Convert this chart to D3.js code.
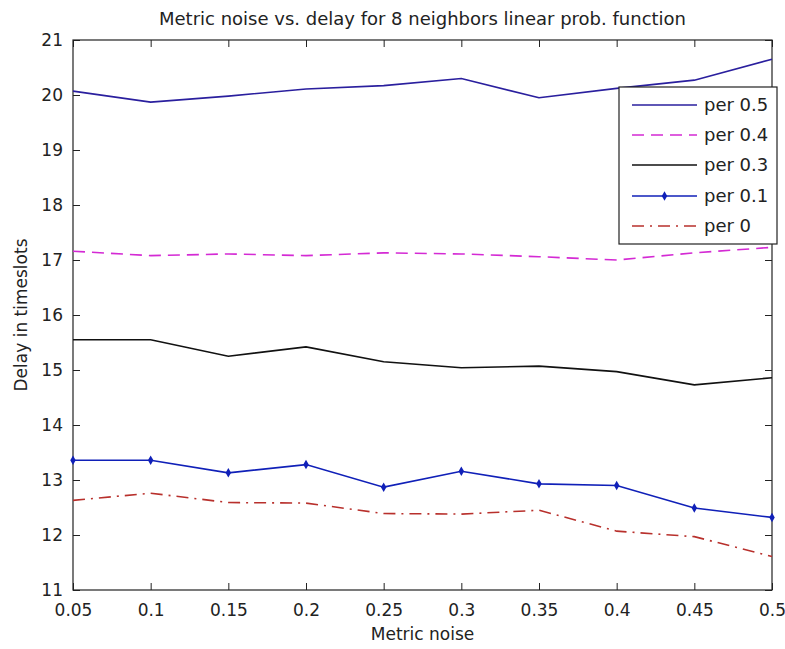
<!DOCTYPE html>
<html><head><meta charset="utf-8">
<script src="https://cdn.jsdelivr.net/npm/d3@7"></script>
<style>
body{margin:0;background:#fff;}
text{font-family:"DejaVu Sans",sans-serif;fill:#222;}
</style></head>
<body><svg id="c" width="785" height="649"></svg>
<script>
const noise = [0.05,0.1,0.15,0.2,0.25,0.3,0.35,0.4,0.45,0.5];
const per05 = [20.07,19.87,19.98,20.11,20.17,20.30,19.95,20.12,20.27,20.65];
const per04 = [17.16,17.08,17.11,17.08,17.13,17.11,17.06,17.00,17.13,17.23];
const per03 = [15.55,15.55,15.25,15.42,15.15,15.04,15.07,14.97,14.73,14.86];
const per01 = [13.36,13.36,13.13,13.28,12.87,13.16,12.93,12.90,12.49,12.32];
const per0  = [12.63,12.76,12.59,12.58,12.39,12.38,12.45,12.07,11.97,11.61];
const xTicks = [0.05,0.1,0.15,0.2,0.25,0.3,0.35,0.4,0.45,0.5];
const yTicks = [11,12,13,14,15,16,17,18,19,20,21];
const seriesNames = ["per 0.5","per 0.4","per 0.3","per 0.1","per 0"];

const series = [
  {name:seriesNames[0], v:per05, color:"#2a1f9e", dash:null, marker:false},
  {name:seriesNames[1], v:per04, color:"#d42ad4", dash:"12,7", marker:false},
  {name:seriesNames[2], v:per03, color:"#111", dash:null, marker:false},
  {name:seriesNames[3], v:per01, color:"#1020b8", dash:null, marker:true},
  {name:seriesNames[4], v:per0,  color:"#b8302c", dash:"12,6,2,6", marker:false}
];

const L=73, R=772, T=40, B=590;
const svg=d3.select("#c");
const x=d3.scaleLinear().domain([0.05,0.5]).range([L,R]);
const y=d3.scaleLinear().domain([11,21]).range([B,T]);

svg.append("rect").attr("x",L).attr("y",T).attr("width",R-L).attr("height",B-T).attr("fill","#fff");

const fs="17px";
const gx=svg.append("g").attr("transform",`translate(0,${B})`)
  .call(d3.axisBottom(x).tickValues(xTicks).tickFormat(d=>String(+d.toFixed(2))).tickSize(-7).tickPadding(14));
const gy=svg.append("g").attr("transform",`translate(${L},0)`)
  .call(d3.axisLeft(y).tickValues(yTicks).tickFormat(d3.format("d")).tickSize(-7).tickPadding(10));
const gt=svg.append("g").attr("transform",`translate(0,${T})`)
  .call(d3.axisTop(x).tickValues(xTicks).tickFormat("").tickSize(-7));
const gr=svg.append("g").attr("transform",`translate(${R},0)`)
  .call(d3.axisRight(y).tickValues(yTicks).tickFormat("").tickSize(-7));
[gx,gy,gt,gr].forEach(g=>{
  g.select(".domain").remove();
  g.selectAll("line").attr("stroke","#222").attr("stroke-width",1);
  g.selectAll("text").style("font-size",fs).attr("fill","#333").style("font-family","DejaVu Sans");
});
svg.append("rect").attr("x",L).attr("y",T).attr("width",R-L).attr("height",B-T)
  .attr("fill","none").attr("stroke","#222").attr("stroke-width",1.2);

const line=d3.line().x((d,i)=>x(noise[i])).y(d=>y(d));
series.forEach(s=>{
  svg.append("path").datum(s.v).attr("d",line).attr("fill","none")
    .attr("stroke",s.color).attr("stroke-width",1.6)
    .attr("stroke-dasharray",s.dash);
  if(s.marker){
    svg.selectAll(null).data(s.v).enter().append("path")
      .attr("d",d3.symbol(d3.symbolDiamond,26)())
      .attr("transform",(d,i)=>`translate(${x(noise[i])},${y(d)})`)
      .attr("fill",s.color);
  }
});

svg.append("text").attr("x",(L+R)/2).attr("y",25).attr("text-anchor","middle")
  .style("font-size","18px").text("Metric noise vs. delay for 8 neighbors linear prob. function");
svg.append("text").attr("x",(L+R)/2).attr("y",640).attr("text-anchor","middle")
  .style("font-size",fs).text("Metric noise");
svg.append("text").attr("transform",`translate(27,${(T+B)/2}) rotate(-90)`).attr("text-anchor","middle")
  .style("font-size",fs).text("Delay in timeslots");

const lg=svg.append("g");
lg.append("rect").attr("x",619).attr("y",87).attr("width",158).attr("height",157)
  .attr("fill","#fff").attr("stroke","#222").attr("stroke-width",1.2);
const rowsY=[105,135,165,196,226];
series.forEach((s,i)=>{
  lg.append("line").attr("x1",632).attr("x2",697).attr("y1",rowsY[i]).attr("y2",rowsY[i])
    .attr("stroke",s.color).attr("stroke-width",1.6).attr("stroke-dasharray",s.dash);
  if(s.marker){
    lg.append("path").attr("d",d3.symbol(d3.symbolDiamond,26)())
      .attr("transform",`translate(664.5,${rowsY[i]})`).attr("fill",s.color);
  }
  lg.append("text").attr("x",704).attr("y",rowsY[i]+6).style("font-size","18px").text(s.name);
});
</script></body></html>
